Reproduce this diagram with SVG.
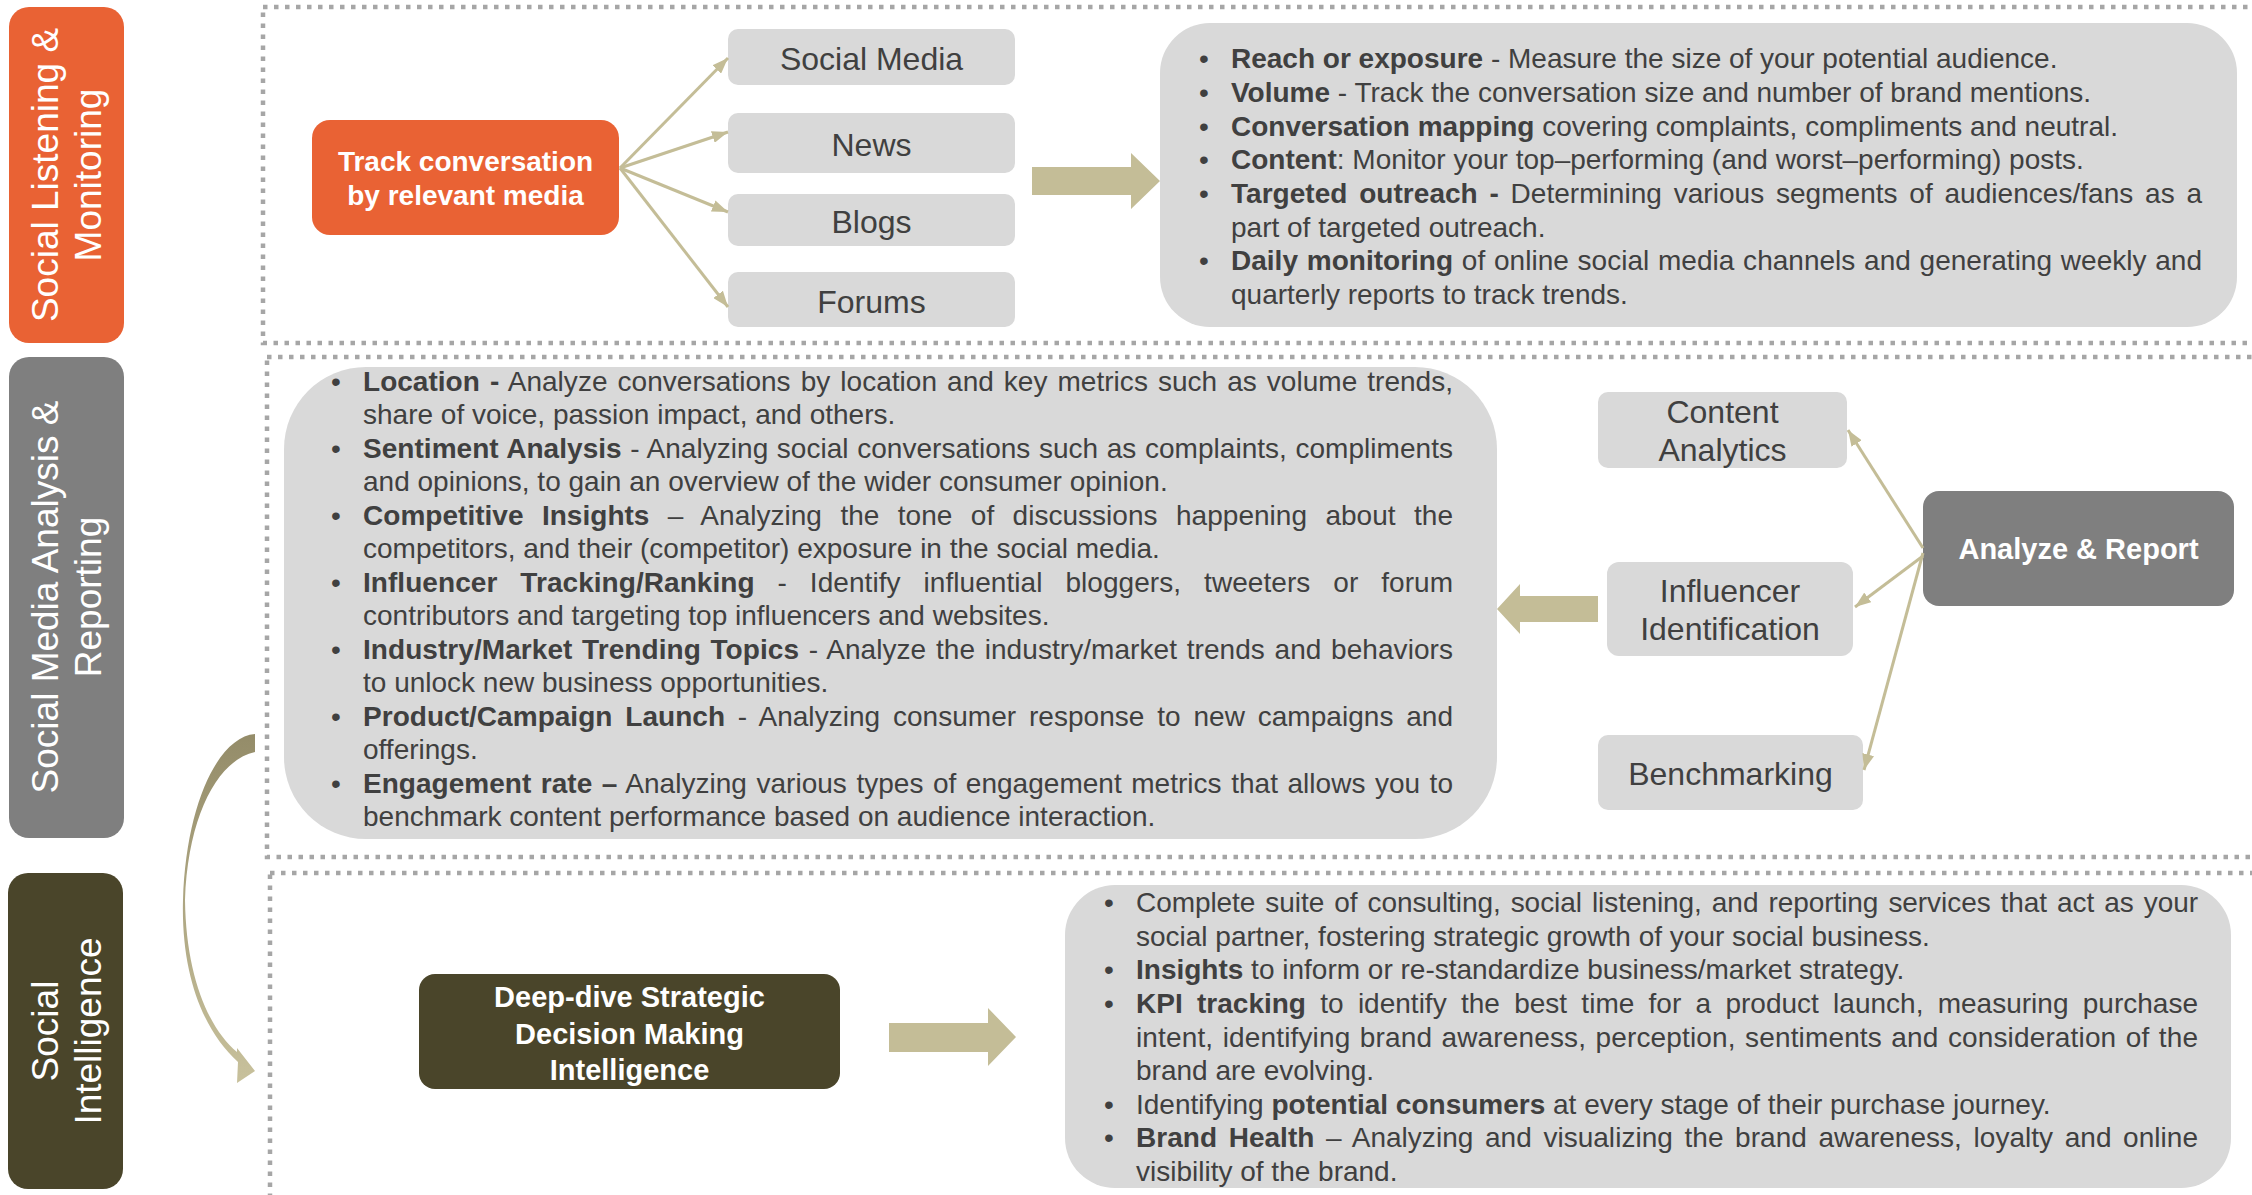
<svg xmlns="http://www.w3.org/2000/svg" width="2252" height="1195" viewBox="0 0 2252 1195">
  <defs>
    <style>
      .frame{fill:none;stroke:#A6A6A6;stroke-width:4.5;stroke-dasharray:4.5 6.5}
      .tab text{font-family:"Liberation Sans",Arial,sans-serif;font-size:37px;fill:#FFFFFF;text-anchor:middle}
      .box{fill:#D9D9D9}
      .lbl{font-family:"Liberation Sans",Arial,sans-serif;font-size:32px;fill:#404040;text-anchor:middle}
      .hd{font-family:"Liberation Sans",Arial,sans-serif;font-weight:bold;fill:#FFFFFF;text-anchor:middle}
      .body{font-family:"Liberation Sans",Arial,sans-serif;font-size:28px;fill:#404040}
      .b{font-weight:bold}
      .link{fill:none;stroke:#C4BD97;stroke-width:3;marker-end:url(#tip)}
      .block{fill:#C4BD97}
    </style>
    <marker id="tip" markerUnits="userSpaceOnUse" markerWidth="16" markerHeight="12" refX="16" refY="6" orient="auto">
      <path d="M0,0 L16,6 L0,12 Z" fill="#C4BD97"/>
    </marker>
    <linearGradient id="curveFill" x1="0" y1="0" x2="0" y2="1">
      <stop offset="0" stop-color="#948C69"/>
      <stop offset="1" stop-color="#C8C19C"/>
    </linearGradient>
  </defs>

  <!-- section frames (right edges run off the page) -->
  <g id="frames">
    <rect class="frame" x="263" y="7" width="2100" height="336"/>
    <rect class="frame" x="267" y="357" width="2100" height="500"/>
    <rect class="frame" x="270" y="873" width="2100" height="400"/>
  </g>

  <!-- side tabs -->
  <g id="tab-listening" class="tab">
    <rect x="9" y="7" width="115" height="336" rx="20" fill="#E96234"/>
    <text transform="translate(58,175) rotate(-90)">Social Listening &amp;</text>
    <text transform="translate(101,175) rotate(-90)">Monitoring</text>
  </g>
  <g id="tab-analysis" class="tab">
    <rect x="9" y="357" width="115" height="481" rx="20" fill="#7F7F7F"/>
    <text transform="translate(58,597) rotate(-90)">Social Media Analysis &amp;</text>
    <text transform="translate(101,597) rotate(-90)">Reporting</text>
  </g>
  <g id="tab-intelligence" class="tab">
    <rect x="8" y="873" width="115" height="316" rx="20" fill="#4A452A"/>
    <text transform="translate(58,1031) rotate(-90)">Social</text>
    <text transform="translate(101,1031) rotate(-90)">Intelligence</text>
  </g>

  <!-- section 1 -->
  <g id="track">
    <rect x="312" y="120" width="307" height="115" rx="18" fill="#E96234"/>
    <text class="hd" font-size="28" x="465.5" y="171">Track conversation</text>
    <text class="hd" font-size="28" x="465.5" y="205">by relevant media</text>
  </g>
  <g id="social-media">
    <rect class="box" x="728" y="29" width="287" height="56" rx="10"/>
    <text class="lbl" x="871.5" y="69.5">Social Media</text>
  </g>
  <g id="news">
    <rect class="box" x="728" y="113" width="287" height="60" rx="10"/>
    <text class="lbl" x="871.5" y="155.5">News</text>
  </g>
  <g id="blogs">
    <rect class="box" x="728" y="194" width="287" height="52" rx="10"/>
    <text class="lbl" x="871.5" y="232.5">Blogs</text>
  </g>
  <g id="forums">
    <rect class="box" x="728" y="272" width="287" height="55" rx="10"/>
    <text class="lbl" x="871.5" y="312.5">Forums</text>
  </g>
  <g id="listening-points" class="body">
    <rect class="box" x="1160" y="23" width="1077" height="304" rx="50"/>
    <text x="1199" y="68">•</text>
    <text x="1199" y="102">•</text>
    <text x="1199" y="136">•</text>
    <text x="1199" y="169">•</text>
    <text x="1199" y="203">•</text>
    <text x="1199" y="270">•</text>
    <text x="1231" y="68"><tspan class="b">Reach or exposure</tspan> - Measure the size of your potential audience.</text>
    <text x="1231" y="102"><tspan class="b">Volume</tspan> - Track the conversation size and number of brand mentions.</text>
    <text x="1231" y="136"><tspan class="b">Conversation mapping</tspan> covering complaints, compliments and neutral.</text>
    <text x="1231" y="169"><tspan class="b">Content</tspan>: Monitor your top–performing (and worst–performing) posts.</text>
    <text x="1231" y="203" word-spacing="3.9" textLength="971" lengthAdjust="spacing"><tspan class="b">Targeted outreach -</tspan> Determining various segments of audiences/fans as a</text>
    <text x="1231" y="237">part of targeted outreach.</text>
    <text x="1231" y="270" word-spacing="1" textLength="971" lengthAdjust="spacing"><tspan class="b">Daily monitoring</tspan> of online social media channels and generating weekly and</text>
    <text x="1231" y="304">quarterly reports to track trends.</text>
  </g>

  <!-- section 2 -->
  <g id="analysis-points" class="body">
    <rect class="box" x="284" y="367" width="1213" height="472" rx="82"/>
    <text x="331" y="390.5">•</text>
    <text x="331" y="457.5">•</text>
    <text x="331" y="524.5">•</text>
    <text x="331" y="591.5">•</text>
    <text x="331" y="658.5">•</text>
    <text x="331" y="725.5">•</text>
    <text x="331" y="792.5">•</text>
    <text x="363" y="390.5" word-spacing="2.2" textLength="1090" lengthAdjust="spacing"><tspan class="b">Location -</tspan> Analyze conversations by location and key metrics such as volume trends,</text>
    <text x="363" y="424">share of voice, passion impact, and others.</text>
    <text x="363" y="457.5" word-spacing="0.7" textLength="1090" lengthAdjust="spacing"><tspan class="b">Sentiment Analysis</tspan> - Analyzing social conversations such as complaints, compliments</text>
    <text x="363" y="491">and opinions, to gain an overview of the wider consumer opinion.</text>
    <text x="363" y="524.5" word-spacing="10.6" textLength="1090" lengthAdjust="spacing"><tspan class="b">Competitive Insights</tspan> – Analyzing the tone of discussions happening about the</text>
    <text x="363" y="558">competitors, and their (competitor) exposure in the social media.</text>
    <text x="363" y="591.5" word-spacing="15.1" textLength="1090" lengthAdjust="spacing"><tspan class="b">Influencer Tracking/Ranking</tspan> - Identify influential bloggers, tweeters or forum</text>
    <text x="363" y="625">contributors and targeting top influencers and websites.</text>
    <text x="363" y="658.5" word-spacing="1.8" textLength="1090" lengthAdjust="spacing"><tspan class="b">Industry/Market Trending Topics</tspan> - Analyze the industry/market trends and behaviors</text>
    <text x="363" y="692">to unlock new business opportunities.</text>
    <text x="363" y="725.5" word-spacing="5" textLength="1090" lengthAdjust="spacing"><tspan class="b">Product/Campaign Launch</tspan> - Analyzing consumer response to new campaigns and</text>
    <text x="363" y="759">offerings.</text>
    <text x="363" y="792.5" word-spacing="1.7" textLength="1090" lengthAdjust="spacing"><tspan class="b">Engagement rate –</tspan> Analyzing various types of engagement metrics that allows you to</text>
    <text x="363" y="826">benchmark content performance based on audience interaction.</text>
  </g>
  <g id="content-analytics">
    <rect class="box" x="1598" y="392" width="249" height="76" rx="10"/>
    <text class="lbl" x="1722.5" y="423">Content</text>
    <text class="lbl" x="1722.5" y="461">Analytics</text>
  </g>
  <g id="influencer-identification">
    <rect class="box" x="1607" y="562" width="246" height="94" rx="12"/>
    <text class="lbl" x="1730" y="601.5">Influencer</text>
    <text class="lbl" x="1730" y="640">Identification</text>
  </g>
  <g id="benchmarking">
    <rect class="box" x="1598" y="735" width="265" height="75" rx="10"/>
    <text class="lbl" x="1730.5" y="785">Benchmarking</text>
  </g>
  <g id="analyze-report">
    <rect x="1923" y="491" width="311" height="115" rx="16" fill="#7F7F7F"/>
    <text class="hd" font-size="29" x="2078.5" y="559">Analyze &amp; Report</text>
  </g>

  <!-- section 3 -->
  <g id="deep-dive">
    <rect x="419" y="974" width="421" height="115" rx="16" fill="#4A452A"/>
    <text class="hd" font-size="29" x="629.5" y="1007">Deep-dive Strategic</text>
    <text class="hd" font-size="29" x="629.5" y="1043.5">Decision Making</text>
    <text class="hd" font-size="29" x="629.5" y="1080">Intelligence</text>
  </g>
  <g id="intelligence-points" class="body">
    <rect class="box" x="1065" y="885" width="1166" height="303" rx="50"/>
    <text x="1104" y="912">•</text>
    <text x="1104" y="979">•</text>
    <text x="1104" y="1013">•</text>
    <text x="1104" y="1114">•</text>
    <text x="1104" y="1147">•</text>
    <text x="1136" y="912" word-spacing="2.3" textLength="1062" lengthAdjust="spacing">Complete suite of consulting, social listening, and reporting services that act as your</text>
    <text x="1136" y="945.5">social partner, fostering strategic growth of your social business.</text>
    <text x="1136" y="979"><tspan class="b">Insights</tspan> to inform or re-standardize business/market strategy.</text>
    <text x="1136" y="1013" word-spacing="6.5" textLength="1062" lengthAdjust="spacing"><tspan class="b">KPI tracking</tspan> to identify the best time for a product launch, measuring purchase</text>
    <text x="1136" y="1046.5" word-spacing="1.5" textLength="1062" lengthAdjust="spacing">intent, identifying brand awareness, perception, sentiments and consideration of the</text>
    <text x="1136" y="1080">brand are evolving.</text>
    <text x="1136" y="1114">Identifying <tspan class="b">potential consumers</tspan> at every stage of their purchase journey.</text>
    <text x="1136" y="1147" word-spacing="3.8" textLength="1062" lengthAdjust="spacing"><tspan class="b">Brand Health</tspan> – Analyzing and visualizing the brand awareness, loyalty and online</text>
    <text x="1136" y="1181">visibility of the brand.</text>
  </g>

  <!-- connectors -->
  <g id="connectors">
    <line class="link" x1="620" y1="168" x2="728" y2="58"/>
    <line class="link" x1="620" y1="168" x2="728" y2="132"/>
    <line class="link" x1="620" y1="168" x2="728" y2="212"/>
    <line class="link" x1="620" y1="168" x2="728" y2="307"/>
    <line class="link" x1="1923" y1="548" x2="1848" y2="430"/>
    <line class="link" x1="1923" y1="556" x2="1855" y2="607"/>
    <line class="link" x1="1923" y1="553" x2="1864" y2="770"/>
    <polygon class="block" points="1032,167 1131,167 1131,153 1160,181 1131,209 1131,195 1032,195"/>
    <polygon class="block" points="1598,596 1520,596 1520,584 1497,609 1520,634 1520,622 1598,622"/>
    <polygon class="block" points="889,1023 988,1023 988,1008 1016,1037 988,1066 988,1052 889,1052"/>
    <path fill="url(#curveFill)" d="M255,734 C218,737 186,805 183,900 C181,975 203,1030 238,1062 L237,1083 L255,1071 L237,1048 L237,1052 C208,1028 186,975 185,900 C188,815 218,760 255,752 Z"/>
  </g>
</svg>
